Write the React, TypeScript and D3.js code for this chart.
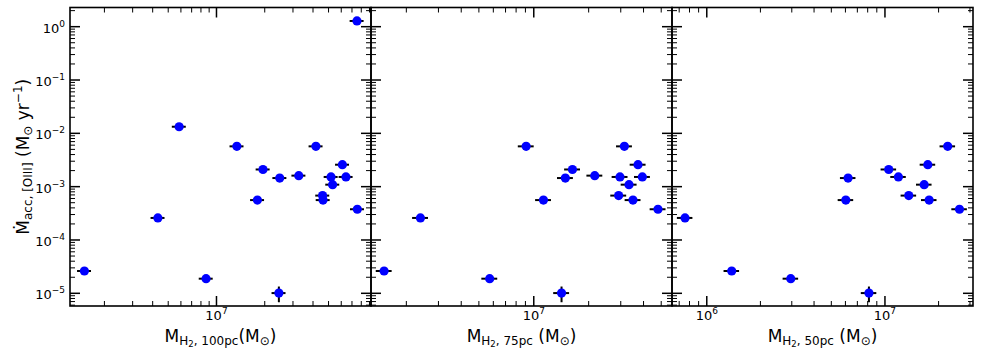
import { scaleLog } from "d3";

// [OIII]-based accretion rate per galaxy (Msun / yr)
const mdotAcc = [
  1.28, 0.0133, 0.0057, 0.0057, 0.00258, 0.0021, 0.00145, 0.00161, 0.00152,
  0.00152, 0.00109, 0.00068, 0.00056, 0.00056, 0.000377, 0.000259, 2.62e-5,
  1.88e-5, 1.01e-5,
];
const mdotErr = [0, 0, 0, 0, 0, 0, 0, 0, 0, 0, 0, 0, 0, 0, 0, 0, 0, 0, 0.33e-5];

// molecular gas mass within each aperture (Msun), null = not measured
const mH2_100pc = [
  7.52e7, 5.85e6, 1.34e7, 4.17e7, 6.1e7, 1.95e7, 2.48e7, 3.26e7, 5.18e7, 6.42e7,
  5.3e7, 4.59e7, 4.62e7, 1.8e7, 7.56e7, 4.31e6, 1.5e6, 8.61e6, 2.45e7,
];
const mH2_75pc = [
  null, null, 9.08e6, 3.14e7, 3.73e7, 1.63e7, 1.49e7, 2.16e7, 2.97e7, 3.94e7,
  3.33e7, 2.92e7, 3.5e7, 1.13e7, 4.8e7, 2.39e6, 1.51e6, 5.73e6, 1.42e7,
];
const mH2_50pc = [
  null, null, null, 2.25e7, 1.74e7, 1.05e7, 6.21e6, null, 1.19e7, null, 1.66e7,
  1.36e7, 1.77e7, 6.03e6, 2.62e7, 7.55e5, 1.38e6, 2.96e6, 8.13e6,
];
const massRelErr = 0.1;

const apertures = ["100pc", "75pc", "50pc"];
const xLimits = [
  [1.22e6, 9.2e7],
  [1.28e6, 5.73e7],
  [6.38e5, 3.12e7],
];
const yLimits = [5.78e-6, 2.29];

const width = 981;
const height = 355;
const margin = { top: 7.5, left: 70, bottom: 49 };
const panelW = 301;
const innerH = height - margin.top - margin.bottom;
const font = "DejaVu Sans";

const isMajor = (v: number) =>
  Math.abs(Math.log10(v) - Math.round(Math.log10(v))) < 1e-9;

function Pow10({ v, ...rest }: any) {
  const e = Math.round(Math.log10(v));
  return (
    <text {...rest} fontFamily={font} fill="#000">
      10
      <tspan fontSize={9} dy={-6}>
        {e < 0 ? "\u2212" + -e : e}
      </tspan>
    </text>
  );
}

function Panel({ idx, masses }: { idx: number; masses: (number | null)[] }) {
  const x0 = margin.left + idx * panelW;
  const x = scaleLog().domain(xLimits[idx]).range([0, panelW]);
  const y = scaleLog().domain(yLimits).range([innerH, 0]);

  const xt = x.ticks();
  const yt = y.ticks();
  const major = 10;
  const minor = 5;

  return (
    <g transform={`translate(${x0},${margin.top})`}>
      {/* x ticks, bottom + top, inward */}
      {xt.map((v, i) => {
        const len = isMajor(v) ? major : minor;
        const sw = isMajor(v) ? 1.5 : 1;
        return (
          <g key={"x" + i} stroke="#000" strokeWidth={sw}>
            <line x1={x(v)} x2={x(v)} y1={innerH} y2={innerH - len} />
            <line x1={x(v)} x2={x(v)} y1={0} y2={len} />
          </g>
        );
      })}
      {/* y ticks, left + right, inward */}
      {yt.map((v, i) => {
        const len = isMajor(v) ? major : minor;
        const sw = isMajor(v) ? 1.5 : 1;
        return (
          <g key={"y" + i} stroke="#000" strokeWidth={sw}>
            <line x1={0} x2={len} y1={y(v)} y2={y(v)} />
            <line x1={panelW} x2={panelW - len} y1={y(v)} y2={y(v)} />
          </g>
        );
      })}
      {xt.filter(isMajor).map((v, i) => (
        <Pow10
          key={"xl" + i}
          v={v}
          x={x(v)}
          y={innerH + 14}
          fontSize={13}
          textAnchor="middle"
        />
      ))}
      {idx === 0 &&
        yt.filter(isMajor).map((v, i) => (
          <Pow10
            key={"yl" + i}
            v={v}
            x={-5}
            y={y(v) + 6}
            fontSize={13}
            textAnchor="end"
          />
        ))}
      <rect
        x={0}
        y={0}
        width={panelW}
        height={innerH}
        fill="none"
        stroke="#000"
        strokeWidth={1.6}
      />
      {/* error bars */}
      {masses.map((m, i) =>
        m == null ? null : (
          <g key={"e" + i} stroke="#000" strokeWidth={2}>
            <line
              x1={x(m * (1 - massRelErr))}
              x2={x(m * (1 + massRelErr))}
              y1={y(mdotAcc[i])}
              y2={y(mdotAcc[i])}
            />
            {mdotErr[i] > 0 && (
              <line
                x1={x(m)}
                x2={x(m)}
                y1={y(mdotAcc[i] - mdotErr[i])}
                y2={y(mdotAcc[i] + mdotErr[i])}
              />
            )}
          </g>
        )
      )}
      {masses.map((m, i) =>
        m == null ? null : (
          <circle
            key={"p" + i}
            cx={x(m)}
            cy={y(mdotAcc[i])}
            r={4.6}
            fill="#0000ff"
          />
        )
      )}
      {/* x label */}
      <text
        x={panelW / 2}
        y={innerH + 35.5}
        textAnchor="middle"
        fontFamily={font}
        fontSize={17}
        fill="#000"
      >
        M
        <tspan fontSize={12} dy={3}>
          H
        </tspan>
        <tspan fontSize={8.5} dy={2}>
          2
        </tspan>
        <tspan fontSize={12} dy={-2}>
          {", " + apertures[idx]}
        </tspan>
        <tspan fontSize={17} dy={-3}>
          {(idx === 0 ? "" : " ") + "(M"}
        </tspan>
        <tspan fontSize={12} dy={3}>
          {"\u2299"}
        </tspan>
        <tspan fontSize={17} dy={-3}>
          )
        </tspan>
      </text>
    </g>
  );
}

function App() {
  const cy = margin.top + innerH / 2;
  return (
    <svg
      width={width}
      height={height}
      style={{ position: "absolute", left: 0, top: 0, background: "#fff" }}
    >
      <rect width={width} height={height} fill="#fff" />
      {[mH2_100pc, mH2_75pc, mH2_50pc].map((m, i) => (
        <Panel key={i} idx={i} masses={m} />
      ))}
      <text
        transform={`translate(28.5,${cy}) rotate(-90)`}
        textAnchor="middle"
        fontFamily={font}
        fontSize={17}
        fill="#000"
      >
        {"\u1E40"}
        <tspan fontSize={12} dy={3}>
          acc, [OIII]
        </tspan>
        <tspan fontSize={17} dy={-3}>
          {" (M"}
        </tspan>
        <tspan fontSize={12} dy={3}>
          {"\u2299"}
        </tspan>
        <tspan fontSize={17} dy={-3}>
          {" yr"}
        </tspan>
        <tspan fontSize={12} dy={-7}>
          {"\u22121"}
        </tspan>
        <tspan fontSize={17} dy={7}>
          )
        </tspan>
      </text>
    </svg>
  );
}

export default App;
